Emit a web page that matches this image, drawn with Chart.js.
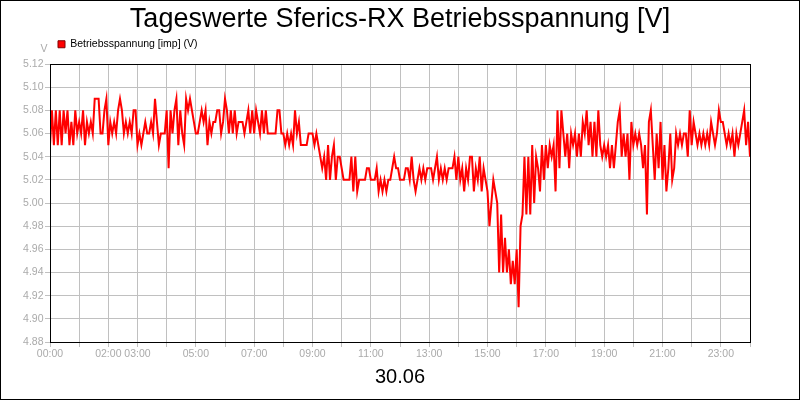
<!DOCTYPE html>
<html>
<head>
<meta charset="utf-8">
<title>Tageswerte Sferics-RX Betriebsspannung</title>
<script src="https://cdn.jsdelivr.net/npm/chart.js@4/dist/chart.umd.min.js"></script>
<style>
    html, body { margin: 0; padding: 0; background: #fff; }
    canvas { display: block; }
</style>
</head>
<body>
<canvas id="chart" width="800" height="400"></canvas>
<script>
const chartTitle = 'Tageswerte Sferics-RX Betriebsspannung [V]';
const seriesLabel = 'Betriebsspannung [imp] (V)';
const dateLabel = '30.06';
const unitLabel = 'V';

// one reading every 4 minutes, 00:00 .. 24:00
const sampleMinutes = 4;
const voltage = [
    5.05, 5.08, 5.05, 5.08, 5.05, 5.08, 5.05, 5.08, 5.06, 5.08, 5.05, 5.07, 5.05, 5.08, 5.06,
    5.07, 5.06, 5.08, 5.05, 5.07, 5.06, 5.07, 5.06, 5.09, 5.09, 5.09, 5.06, 5.06, 5.08, 5.09,
    5.05, 5.07, 5.06, 5.07, 5.06, 5.08, 5.09, 5.08, 5.06, 5.07, 5.06, 5.07, 5.06, 5.08, 5.08,
    5.05, 5.06, 5.05, 5.06, 5.07, 5.06, 5.06, 5.07, 5.06, 5.09, 5.07, 5.05, 5.06, 5.06, 5.06,
    5.08, 5.03, 5.08, 5.06, 5.08, 5.09, 5.05, 5.08, 5.06, 5.05, 5.09, 5.08, 5.09, 5.08, 5.07,
    5.06, 5.06, 5.07, 5.08, 5.07, 5.08, 5.05, 5.07, 5.06, 5.07, 5.07, 5.08, 5.08, 5.06, 5.07,
    5.09, 5.08, 5.06, 5.08, 5.06, 5.08, 5.06, 5.07, 5.07, 5.07, 5.06, 5.07, 5.08, 5.06, 5.08,
    5.06, 5.08, 5.07, 5.06, 5.08, 5.06, 5.08, 5.06, 5.06, 5.06, 5.06, 5.06, 5.08, 5.08, 5.06,
    5.06, 5.05, 5.06, 5.05, 5.06, 5.05, 5.08, 5.06, 5.07, 5.05, 5.05, 5.05, 5.05, 5.06, 5.06,
    5.06, 5.05, 5.06, 5.05, 5.04, 5.03, 5.04, 5.02, 5.05, 5.02, 5.04, 5.05, 5.02, 5.04, 5.04,
    5.03, 5.02, 5.02, 5.02, 5.02, 5.04, 5.01, 5.04, 5.01, 5.02, 5.02, 5.02, 5.02, 5.03, 5.03,
    5.02, 5.02, 5.02, 5.03, 5.01, 5.02, 5.01, 5.02, 5.01, 5.02, 5.02, 5.03, 5.04, 5.03, 5.03,
    5.02, 5.02, 5.02, 5.03, 5.03, 5.02, 5.04, 5.02, 5.01, 5.02, 5.03, 5.02, 5.03, 5.02, 5.03,
    5.03, 5.03, 5.02, 5.03, 5.04, 5.02, 5.03, 5.02, 5.03, 5.02, 5.03, 5.03, 5.03, 5.04, 5.02,
    5.04, 5.02, 5.03, 5.01, 5.03, 5.02, 5.04, 5.04, 5.01, 5.03, 5.02, 5.04, 5.01, 5.03, 5.02,
    5.01, 4.98, 5.00, 5.02, 5.01, 5.00, 4.94, 4.99, 4.94, 4.97, 4.94, 4.96, 4.93, 4.95, 4.93,
    4.96, 4.91, 4.98, 4.99, 5.04, 4.99, 5.04, 4.99, 5.05, 5.00, 5.04, 5.03, 5.01, 5.05, 5.02,
    5.05, 5.03, 5.05, 5.04, 5.05, 5.01, 5.08, 5.03, 5.08, 5.06, 5.04, 5.06, 5.03, 5.06, 5.05,
    5.06, 5.04, 5.06, 5.04, 5.07, 5.06, 5.08, 5.05, 5.07, 5.04, 5.07, 5.04, 5.08, 5.05, 5.04,
    5.05, 5.04, 5.05, 5.03, 5.05, 5.03, 5.05, 5.07, 5.08, 5.04, 5.06, 5.04, 5.06, 5.02, 5.07,
    5.05, 5.06, 5.05, 5.06, 5.05, 5.03, 5.05, 4.99, 5.07, 5.08, 5.05, 5.02, 5.06, 5.03, 5.07,
    5.02, 5.05, 5.01, 5.03, 5.06, 5.02, 5.03, 5.06, 5.05, 5.06, 5.05, 5.06, 5.06, 5.04, 5.08,
    5.05, 5.07, 5.06, 5.05, 5.06, 5.05, 5.06, 5.05, 5.06, 5.05, 5.07, 5.06, 5.05, 5.06, 5.08,
    5.07, 5.07, 5.06, 5.05, 5.06, 5.05, 5.06, 5.04, 5.06, 5.05, 5.06, 5.07, 5.08, 5.05, 5.07,
    5.04
];

// x axis: a tick every hour, only some of them labelled
const xTickHours = [0, 2, 3, 5, 7, 9, 11, 13, 15, 17, 19, 21, 23];
const xTickLabels = ['00:00', '02:00', '03:00', '05:00', '07:00', '09:00', '11:00',
                     '13:00', '15:00', '17:00', '19:00', '21:00', '23:00'];
const yMin = 4.88;
const yMax = 5.12;
const yStep = 0.02;

Chart.defaults.font.family = '"Liberation Sans", Arial, sans-serif';

const points = voltage.map((v, i) => ({ x: i * sampleMinutes / 60, y: v }));

// frame around plot + image, unit label, extra space under the legend
const framePlugin = {
    id: 'frame',
    beforeLayout(chart) {
        const lg = chart.legend;
        if (lg && !lg._spaced) {
            const fit = lg.fit;
            lg.fit = function () { fit.call(this); this.height += 4.5; };
            lg._spaced = true;
        }
    },
    afterDraw(chart) {
        const { ctx, chartArea: a } = chart;
        ctx.save();
        ctx.strokeStyle = '#000';
        ctx.lineWidth = 1;
        ctx.strokeRect(Math.round(a.left) + 0.5, Math.round(a.top) + 0.5,
            Math.round(a.right - a.left), Math.round(a.bottom - a.top));
        ctx.strokeRect(0.5, 0.5, chart.width - 1, chart.height - 1);
        ctx.fillStyle = '#aaaaaa';
        ctx.font = '10.5px "Liberation Sans", Arial, sans-serif';
        ctx.textAlign = 'center';
        ctx.textBaseline = 'middle';
        ctx.fillText(unitLabel, a.left - 6, a.top - 14.5);
        ctx.restore();
    }
};

const gridStyle = { color: '#c0c0c0', lineWidth: 1, tickLength: 5 };

new Chart(document.getElementById('chart'), {
    type: 'line',
    data: {
        datasets: [{
            label: seriesLabel,
            data: points,
            borderColor: '#ff0000',
            backgroundColor: '#ff0000',
            borderWidth: 2,
            pointRadius: 0,
            tension: 0,
            fill: false
        }]
    },
    options: {
        responsive: false,
        animation: false,
        devicePixelRatio: 1,
        layout: { padding: { left: 0, right: 50, top: 0, bottom: 0 } },
        plugins: {
            title: {
                display: true,
                text: chartTitle,
                fullSize: false,
                color: '#000',
                font: { size: 27, weight: 'normal', lineHeight: 1 },
                padding: { top: 6, bottom: -2 }
            },
            legend: {
                display: true,
                fullSize: false,
                align: 'start',
                labels: {
                    color: '#000',
                    font: { size: 10.5 },
                    boxWidth: 7,
                    boxHeight: 7,
                    padding: 8,
                    generateLabels(chart) {
                        return Chart.defaults.plugins.legend.labels.generateLabels(chart)
                            .map(item => Object.assign(item, { lineWidth: 1, strokeStyle: '#800000' }));
                    }
                }
            },
            tooltip: { enabled: false }
        },
        scales: {
            x: {
                type: 'linear',
                min: 0,
                max: 24,
                afterFit(scale) { scale.height = 58; },
                grid: gridStyle,
                border: { display: false },
                ticks: {
                    stepSize: 1,
                    autoSkip: false,
                    maxRotation: 0,
                    color: '#aaaaaa',
                    font: { size: 10.5 },
                    padding: 1,
                    callback(value) {
                        const k = xTickHours.indexOf(value);
                        return k >= 0 ? xTickLabels[k] : '';
                    }
                },
                title: {
                    display: true,
                    text: dateLabel,
                    color: '#000',
                    font: { size: 20 },
                    padding: { top: 0, bottom: 11 }
                }
            },
            y: {
                min: yMin,
                max: yMax,
                afterFit(scale) { scale.width = 50; },
                grid: gridStyle,
                border: { display: false },
                ticks: {
                    stepSize: yStep,
                    color: '#aaaaaa',
                    font: { size: 10.5 },
                    padding: 1.5,
                    callback: value => value.toFixed(2)
                }
            }
        }
    },
    plugins: [framePlugin]
});
</script>
</body>
</html>
